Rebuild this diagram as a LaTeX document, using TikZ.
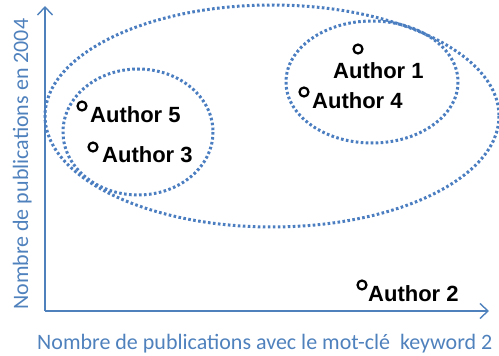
\documentclass[tikz,border=0pt]{standalone}
\usepackage{fontspec}
\setmainfont{Liberation Sans}
\newfontfamily\axisfont{Carlito}
\usetikzlibrary{arrows.meta}
\definecolor{axisblue}{RGB}{79,129,189}
\definecolor{dotblue}{RGB}{74,126,192}
\begin{document}
\begin{tikzpicture}[x=1pt,y=-1pt,
  axis/.style={draw=axisblue,line width=1.6pt,-{Straight Barb[length=8pt,width=15pt,line width=1.4pt]}},
  axislabel/.style={text=axisblue,font=\axisfont\fontsize{22}{22}\selectfont,inner sep=0pt},
  group/.style={draw=dotblue,line width=3pt,dash pattern=on 2.6pt off 2.4pt},
  marker/.style={circle,draw=black,line width=2.2pt,minimum size=9pt,inner sep=0pt},
  author/.style={font=\bfseries\fontsize{22}{22}\selectfont,inner sep=0pt,anchor=base west}]
\useasboundingbox (0,0) rectangle (499,356);

% axes
\coordinate (origin) at (45,311);
\coordinate (ytip) at (45,6);
\coordinate (xtip) at (489,311);
\draw[axis] (origin) -- (ytip);
\draw[axis] (origin) -- (xtip);
\node[axislabel,anchor=base west] (xlabel) at (37,349) {Nombre de publications avec le mot-cl\'e\ \ keyword 2};
\node[axislabel,anchor=base west,rotate=90] (ylabel) at (28,310) {Nombre de publications en 2004};

% groups
\draw[group] (272,116) ellipse [x radius=227, y radius=111];
\draw[group] (138,132) ellipse [x radius=75, y radius=63];
\draw[group] (372,82) ellipse [x radius=86, y radius=61];

% authors
\node[marker] (m1) at (358,49) {};
\node[author] (a1) at (333,78) {Author 1};
\node[marker] (m4) at (304,92) {};
\node[author] (a4) at (312,108) {Author 4};
\node[marker] (m5) at (82,106) {};
\node[author] (a5) at (90,122) {Author 5};
\node[marker] (m3) at (93,147) {};
\node[author] (a3) at (102,162) {Author 3};
\node[marker] (m2) at (362,285) {};
\node[author] (a2) at (368,301) {Author 2};
\end{tikzpicture}
\end{document}
